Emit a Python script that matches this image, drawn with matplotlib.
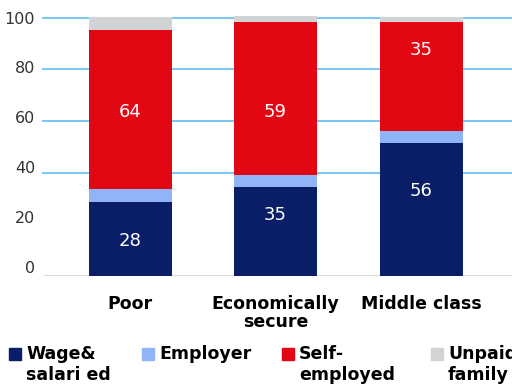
import matplotlib.pyplot as plt
import matplotlib.transforms as mtransforms
from matplotlib.patches import Rectangle

# categories and segments (bar heights)
categories = ['Poor', 'Economically\nsecure', 'Middle class']
wage = [28.8, 34.5, 51.6]
employer = [4.9, 4.6, 4.6]
self_emp = [61.6, 59.0, 42.2]
unpaid = [5.1, 2.4, 1.9]

# printed labels on the bars
wage_labels = ['28', '35', '56']
self_labels = ['64', '59', '35']
# where those labels sit (y value), as seen in the picture
wage_label_y = [13.5, 23.5, 33.0]
self_label_y = [63.5, 63.5, 87.5]

series_names = ['Wage&\nsalari ed', 'Employer', 'Self-\nemployed', 'Unpaid\nfamily']
colors = ['#0A1E68', '#8FB4F8', '#E30613', '#D1D3D4']

fig = plt.figure(figsize=(5.12, 3.85), dpi=100)
ax = fig.add_axes([42 / 512, 109 / 385, 1 - 42 / 512, 261 / 385])

x = range(len(categories))
w = 0.57
bottom = [0, 0, 0]
segments = [wage, employer, self_emp, unpaid]
for vals, c in zip(segments, colors):
    ax.bar(x, vals, w, bottom=bottom, color=c, zorder=3)
    bottom = [bb + v for bb, v in zip(bottom, vals)]

# value labels
for labs, ys in [(wage_labels, wage_label_y), (self_labels, self_label_y)]:
    for xi, t, yv in zip(x, labs, ys):
        ax.text(xi, yv, t, ha='center', va='center', color='white',
                fontsize=13, zorder=4)

ax.set_xlim(-0.605, 2.625)
ax.set_ylim(0, 101)

# gridlines
for g in [40, 60, 80, 100]:
    ax.axhline(g, color='#62BDF0', lw=1.2, zorder=1)
ax.axhline(0, xmin=0.006, color='#D9D9D9', lw=2, zorder=2)

for s in ax.spines.values():
    s.set_visible(False)

ax.set_yticks([0, 20, 40, 60, 80, 100])
ax.set_yticklabels(['0', '20', '40', '60', '80', '100'], fontsize=11.5, color='#333333')
ax.tick_params(axis='y', length=0, pad=5)
for lab, v in zip(ax.get_yticklabels(), [0, 20, 40, 60, 80, 100]):
    off = mtransforms.ScaledTranslation(0, (100 - v) * 0.09 / 100, fig.dpi_scale_trans)
    lab.set_transform(lab.get_transform() + off)

ax.set_xticks(list(x))
ax.set_xticklabels(categories, fontsize=12.5, fontweight='bold', color='black',
                   linespacing=0.95)
ax.tick_params(axis='x', length=0, pad=14)

# legend drawn by hand
leg_x = [9, 142, 282, 431]
for lx, name, c in zip(leg_x, series_names, colors):
    fig.patches.append(Rectangle((lx / 512, 1 - 360 / 385), 12 / 512, 12 / 385,
                                 transform=fig.transFigure, color=c))
    fig.text((lx + 17) / 512, 1 - 345 / 385, name, ha='left', va='top',
             fontsize=12.5, fontweight='bold', color='black', linespacing=1.2)

fig.savefig('out.png', dpi=100)
